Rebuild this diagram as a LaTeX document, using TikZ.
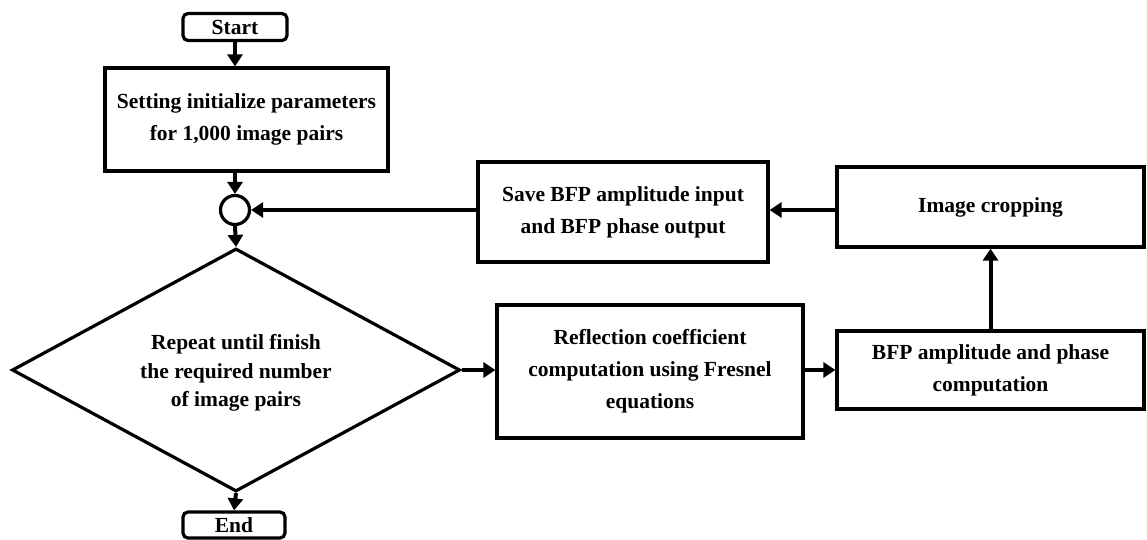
\documentclass[tikz,border=0pt]{standalone}
\usepackage{fontspec}
\setmainfont{Liberation Serif}
\usetikzlibrary{arrows.meta,shapes.geometric}
\begin{document}
\begin{tikzpicture}[x=1pt,y=-1pt,
  every node/.style={font=\fontsize{21.5}{32}\selectfont\bfseries, align=center, inner sep=0pt},
  box/.style={draw, line width=3.2pt, rectangle},
  term/.style={draw, line width=3.2pt, rounded corners=5pt},
  arr/.style={line width=4pt, -{Triangle[length=12pt,width=15pt]}}]
\useasboundingbox (0,0) rectangle (1147,540);
\node[term, minimum width=104pt, minimum height=27pt] (start) at (235,27) {Start};
\node[box, minimum width=283pt, minimum height=103pt] (init) at (246.5,119.5) {Setting initialize parameters\\for 1,000 image pairs};
\node[draw, circle, line width=3.2pt, minimum size=29pt] (join) at (235,210) {};
\node[draw, diamond, line width=3.2pt, minimum width=448pt, minimum height=243pt, aspect=1.84] (rep) at (236,370) {};
\node[font=\fontsize{21.5}{28.5}\selectfont\bfseries] (reptext) at (236,373) {Repeat until finish\\the required number\\of image pairs};
\node[term, minimum width=102pt, minimum height=26pt] (end) at (234,525) {End};
\node[box, minimum width=290pt, minimum height=100pt] (save) at (623,212) {Save BFP amplitude input\\and BFP phase output};
\node[box, minimum width=307pt, minimum height=80pt] (crop) at (990.5,207) {Image cropping};
\node[box, minimum width=306pt, minimum height=133pt] (refl) at (650,371.5) {Reflection coefficient\\computation using Fresnel\\equations};
\node[box, minimum width=307pt, minimum height=78pt] (bfp) at (990.5,370) {BFP amplitude and phase\\computation};
\draw[arr] (start.south) -- (start.south |- init.north);
\draw[arr] (start.south |- init.south) -- (join.north);
\draw[arr] (join.south) -- (rep.north);
\draw[arr] (rep.south) -- (end.north);
\draw[arr] (rep.east) -- (rep.east -| refl.west);
\draw[arr] (refl.east |- bfp.west) -- (bfp.west);
\draw[arr] (bfp.north) -- (crop.south);
\draw[arr] (crop.west |- 0,210) -- (save.east |- 0,210);
\draw[arr] (save.west |- join.east) -- (join.east);
\end{tikzpicture}
\end{document}
